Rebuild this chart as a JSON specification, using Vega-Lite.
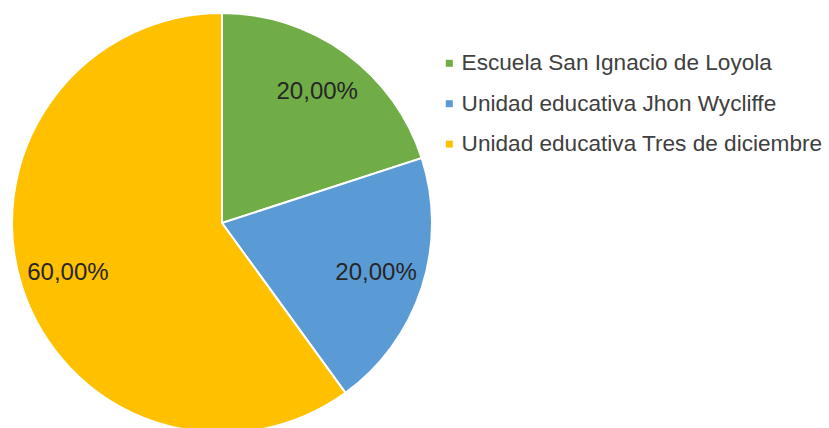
{
  "$schema": "https://vega.github.io/schema/vega-lite/v6.json",
  "width": 444,
  "height": 446,
  "padding": 0,
  "autosize": {"type": "pad"},
  "background": "white",
  "view": {"stroke": null},
  "data": {
    "values": [
      {"escuela": "Escuela San Ignacio de Loyola", "valor": 20, "etiqueta": "20,00%", "orden": 1},
      {"escuela": "Unidad educativa Jhon Wycliffe", "valor": 20, "etiqueta": "20,00%", "orden": 2},
      {"escuela": "Unidad educativa Tres de diciembre", "valor": 60, "etiqueta": "60,00%", "orden": 3}
    ]
  },
  "encoding": {
    "theta": {"field": "valor", "type": "quantitative", "stack": true},
    "order": {"field": "orden", "type": "quantitative"}
  },
  "layer": [
    {
      "mark": {"type": "arc", "outerRadius": 210, "stroke": "white", "strokeWidth": 2},
      "encoding": {
        "color": {
          "field": "escuela",
          "type": "nominal",
          "scale": {
            "domain": ["Escuela San Ignacio de Loyola", "Unidad educativa Jhon Wycliffe", "Unidad educativa Tres de diciembre"],
            "range": ["#70AD47", "#5B9BD5", "#FFC000"]
          },
          "legend": {
            "title": null,
            "orient": "none",
            "legendX": 438,
            "legendY": 52,
            "padding": 0,
            "symbolType": "square",
            "symbolSize": 49,
            "symbolStrokeWidth": 0,
            "labelOffset": 1,
            "labelFont": "Liberation Sans",
            "labelFontSize": 22.6,
            "labelColor": "#404040",
            "labelLimit": 500,
            "rowPadding": 17.4
          }
        }
      }
    },
    {
      "mark": {"type": "text", "radius": 162, "fontSize": 24, "font": "Liberation Sans", "color": "#262626"},
      "encoding": {
        "text": {"field": "etiqueta", "type": "nominal"}
      }
    }
  ]
}
